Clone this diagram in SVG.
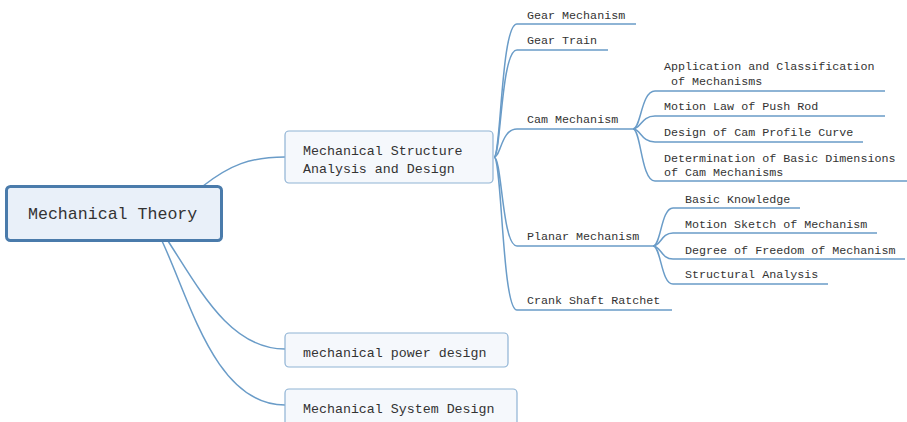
<svg xmlns="http://www.w3.org/2000/svg" width="907" height="422" viewBox="0 0 907 422">
<style>
.c{fill:none;stroke:#6a9cc8;stroke-width:1.5}
.t{font-family:"Liberation Mono","DejaVu Sans Mono",monospace;fill:#333}
.main{font-size:16.6px}
.sub{font-size:13.3px}
.leaf{font-size:11.7px}
.sb{fill:#f5f8fc;stroke:#8fb3d4;stroke-width:1.2}
</style>
<rect width="907" height="422" fill="#fff"/>
<g id="connectors">
<path class="c" d="M203,186 C230,165 250,157 285,157"/>
<path class="c" d="M168,241 C200,290 230,349 285,349"/>
<path class="c" d="M162,241 C190,300 215,405 285,405"/>
<path class="c" d="M494,157 C501,157 501,24 517,24 L636,24"/>
<path class="c" d="M494,157 C501,157 501,50 517,50 L608,50"/>
<path class="c" d="M494,157 C501,157 501,129 517,129 L633,129"/>
<path class="c" d="M494,157 C502,157 502,246 517,246 L653,246"/>
<path class="c" d="M494,157 C502,157 502,310 517,310 L672,310"/>
<path class="c" d="M633,129 C641,129 641,91 655,91 L885,91"/>
<path class="c" d="M633,129 C641,129 641,116 655,116 L885,116"/>
<path class="c" d="M633,129 C641,129 641,142 655,142 L863,142"/>
<path class="c" d="M633,129 C641,129 641,181 655,181 L907,181"/>
<path class="c" d="M653,246 C661,246 661,208 673,208 L800,208"/>
<path class="c" d="M653,246 C661,246 661,233 673,233 L877,233"/>
<path class="c" d="M653,246 C661,246 661,259 673,259 L905,259"/>
<path class="c" d="M653,246 C661,246 661,284 673,284 L828,284"/>
</g>
<g id="main">
<rect x="6.5" y="186.5" width="215" height="54" rx="4" fill="#e9f0f9" stroke="#4a7bab" stroke-width="3"/>
<text class="t main" x="28" y="219">Mechanical Theory</text>
</g>
<g id="structure">
<rect class="sb" x="285" y="131" width="208" height="52" rx="4"/>
<text class="t sub" x="303" y="155">Mechanical Structure</text>
<text class="t sub" x="303" y="172.5">Analysis and Design</text>
</g>
<g id="power">
<rect class="sb" x="285" y="333" width="223" height="34" rx="4"/>
<text class="t sub" x="303" y="356.5">mechanical power design</text>
</g>
<g id="system">
<rect class="sb" x="285" y="389" width="232" height="40" rx="4"/>
<text class="t sub" x="303" y="412.5">Mechanical System Design</text>
</g>
<g id="gear-mechanism"><text class="t leaf" x="527" y="18.5">Gear Mechanism</text></g>
<g id="gear-train"><text class="t leaf" x="527" y="44">Gear Train</text></g>
<g id="cam-mechanism"><text class="t leaf" x="527" y="123">Cam Mechanism</text></g>
<g id="planar-mechanism"><text class="t leaf" x="527" y="240">Planar Mechanism</text></g>
<g id="crank"><text class="t leaf" x="527" y="304">Crank Shaft Ratchet</text></g>
<g id="cam-app"><text class="t leaf" x="664" y="70">Application and Classification</text><text class="t leaf" x="671" y="85">of Mechanisms</text></g>
<g id="cam-motion"><text class="t leaf" x="664" y="110">Motion Law of Push Rod</text></g>
<g id="cam-design"><text class="t leaf" x="664" y="136">Design of Cam Profile Curve</text></g>
<g id="cam-determination"><text class="t leaf" x="664" y="161.5">Determination of Basic Dimensions</text><text class="t leaf" x="664" y="176">of Cam Mechanisms</text></g>
<g id="planar-basic"><text class="t leaf" x="685" y="202.5">Basic Knowledge</text></g>
<g id="planar-sketch"><text class="t leaf" x="685" y="227.5">Motion Sketch of Mechanism</text></g>
<g id="planar-dof"><text class="t leaf" x="685" y="253.5">Degree of Freedom of Mechanism</text></g>
<g id="planar-structural"><text class="t leaf" x="685" y="278">Structural Analysis</text></g>
</svg>
